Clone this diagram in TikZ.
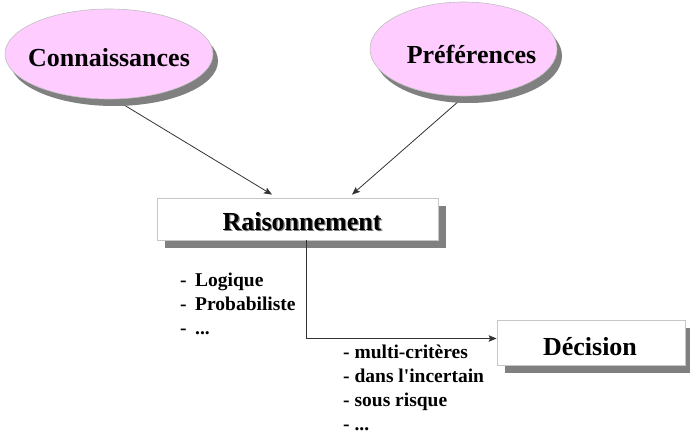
\documentclass[tikz,border=0pt]{standalone}
\usepackage{fontspec}
\setmainfont{Liberation Serif}
\usetikzlibrary{shapes.geometric,shadows,arrows.meta}
\pgfdeclarelayer{back}
\pgfsetlayers{back,main}
\definecolor{bubblefill}{RGB}{255,204,255}
\definecolor{shade}{RGB}{128,128,128}
\newcommand{\dashitem}[1]{\makebox[15pt][l]{-}#1}
\begin{document}
\begin{tikzpicture}[x=1pt,y=-1pt,
  bubble/.style={ellipse, draw=black!25, line width=0.6pt, fill=bubblefill, inner sep=0pt,
    drop shadow={shadow xshift=5pt, shadow yshift=-7pt, fill=shade, opacity=1}},
  panel/.style={rectangle, draw=black!22, line width=0.8pt, fill=white, inner sep=0pt,
    drop shadow={shadow xshift=8pt, shadow yshift=-8pt, fill=shade, opacity=1}},
  head/.style={font=\bfseries\fontsize{26}{30}\selectfont, inner sep=0pt, anchor=base},
  item/.style={font=\bfseries\fontsize{19.5}{24}\selectfont, inner sep=0pt, anchor=base west},
  link/.style={draw=black!80, line width=0.8pt, -{Stealth[length=8pt,width=6.5pt,inset=1.5pt]}}]
\useasboundingbox (0,0) rectangle (690,433);

% shapes
\node[bubble, minimum width=208pt, minimum height=90pt] (con) at (109,54) {};
\node[bubble, minimum width=187pt, minimum height=94pt] (pre) at (463.5,49) {};
\node[panel, minimum width=281pt, minimum height=42pt] (rai) at (297.5,219) {};
\node[panel, minimum width=188pt, minimum height=45pt] (dec) at (591,342.5) {};

% titles
\node[head] (contxt) at (109,66.7) {Connaissances};
\node[head] (pretxt) at (471.5,63.3) {Préférences};
\node[head, text=shade] (raishd) at (303.3,231.3) {Raisonnement};
\node[head] (raitxt) at (302,230) {Raisonnement};
\node[head] (dectxt) at (590,355) {Décision};

% inputs to the reasoning box
\begin{pgfonlayer}{back}
\draw[link] (con.-83) -- ([shift={(-25.5,-3)}]rai.north);
\draw[link] (pre.-89) -- ([shift={(54.5,-3)}]rai.north);
\end{pgfonlayer}

% reasoning to decision
\draw[link] ([xshift=8.5pt]rai.south) |- ([yshift=4pt]dec.west);

% kinds of reasoning
\node[item] (ra1) at (180,286.7) {\dashitem{Logique}};
\node[item] (ra2) at (180,310.7) {\dashitem{Probabiliste}};
\node[item] (ra3) at (180,334.7) {\dashitem{...}};

% kinds of decision
\node[item] (de1) at (343,358.3) {- multi-critères};
\node[item] (de2) at (343,382.5) {- dans l\textquotesingle incertain};
\node[item] (de3) at (343,406.7) {- sous risque};
\node[item] (de4) at (343,430.5) {- ...};
\end{tikzpicture}
\end{document}
